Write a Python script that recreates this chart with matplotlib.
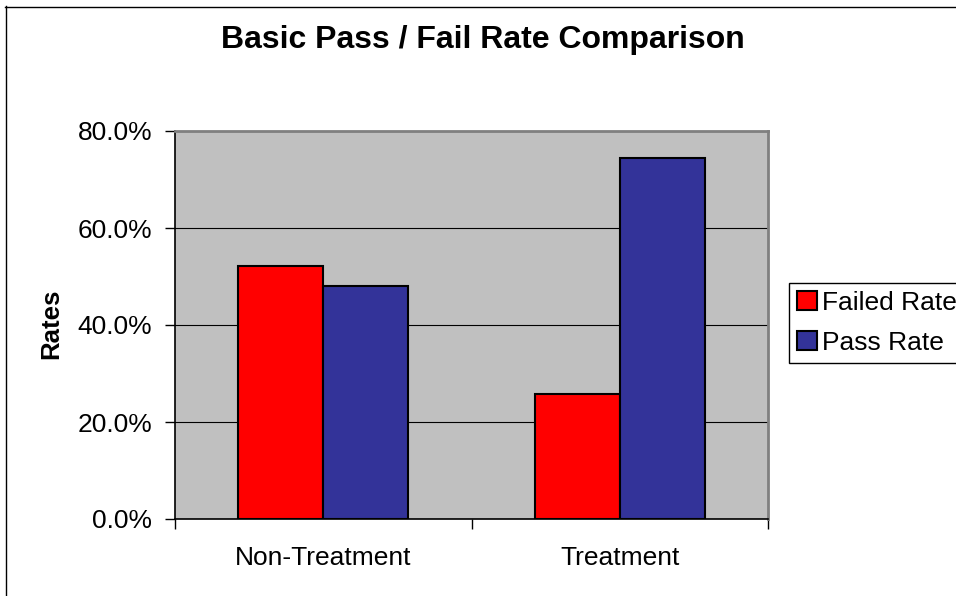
import matplotlib.pyplot as plt
from matplotlib.lines import Line2D
from matplotlib.ticker import FuncFormatter

# chart data
groups = ["Non-Treatment", "Treatment"]
failed_rate = [52.2, 25.8]
pass_rate = [48.0, 74.4]
y_ticks = [0, 20, 40, 60, 80]

plt.rcParams['font.family'] = ['Liberation Sans', 'DejaVu Sans']

fig = plt.figure(figsize=(9.56, 5.96), dpi=100)
W, H = 956, 596
ax = fig.add_axes([175 / W, 1 - 519 / H, (768 - 175) / W, (519 - 131) / H])
ax.set_facecolor('#C0C0C0')

x = list(range(len(groups)))
bw = 0.287
ax.bar([i - bw / 2 for i in x], failed_rate, bw, color='#FF0000',
       edgecolor='black', linewidth=1.5, label='Failed Rate', zorder=3)
ax.bar([i + bw / 2 for i in x], pass_rate, bw, color='#333399',
       edgecolor='black', linewidth=1.5, label='Pass Rate', zorder=3)

ax.set_xlim(-0.5, 1.5)
ax.set_ylim(0, 80)
ax.set_yticks(y_ticks)
ax.yaxis.set_major_formatter(FuncFormatter(lambda v, p: f"{v:.1f}%"))
ax.set_xticks(x)
ax.set_xticklabels(groups, fontsize=19)
ax.set_xticks([-0.5, 0.5, 1.5], minor=True)
ax.tick_params(axis='x', which='major', length=0, pad=19.5)
ax.tick_params(axis='x', which='minor', length=7, width=1, color='black')
ax.tick_params(axis='y', length=7, width=1, labelsize=19, pad=9.5, color='black')
ax.grid(axis='y', color='black', linewidth=0.8, zorder=1)
ax.set_axisbelow(True)

for s in ['top', 'right']:
    ax.spines[s].set_color('#808080')
    ax.spines[s].set_linewidth(2)
for s in ['left', 'bottom']:
    ax.spines[s].set_color('black')
    ax.spines[s].set_linewidth(1.2)

ax.set_ylabel('Rates', fontsize=18.5, fontweight='bold')
ax.yaxis.set_label_coords((63 - 175) / (768 - 175), (519 - 324) / (519 - 131))

fig.text(483 / W, 1 - 40 / H, 'Basic Pass / Fail Rate Comparison',
         fontsize=23, fontweight='bold', ha='center', va='center')

leg = fig.legend(loc='upper left', bbox_to_anchor=(789 / W, 1 - 283 / H),
                 fontsize=19, frameon=True, fancybox=False, edgecolor='black',
                 framealpha=1, handlelength=0.75, handleheight=0.75,
                 handletextpad=0.2, borderpad=0.3, labelspacing=0.6,
                 borderaxespad=0)
leg.get_frame().set_linewidth(1)

# outer chart border (only left and top edges visible)
fig.add_artist(Line2D([5.5 / W, 5.5 / W], [0, 1 - 6 / H], color='black',
                      linewidth=1, transform=fig.transFigure))
fig.add_artist(Line2D([5 / W, 1], [1 - 6.5 / H, 1 - 6.5 / H], color='black',
                      linewidth=1, transform=fig.transFigure))

fig.savefig('out.png', dpi=100)
